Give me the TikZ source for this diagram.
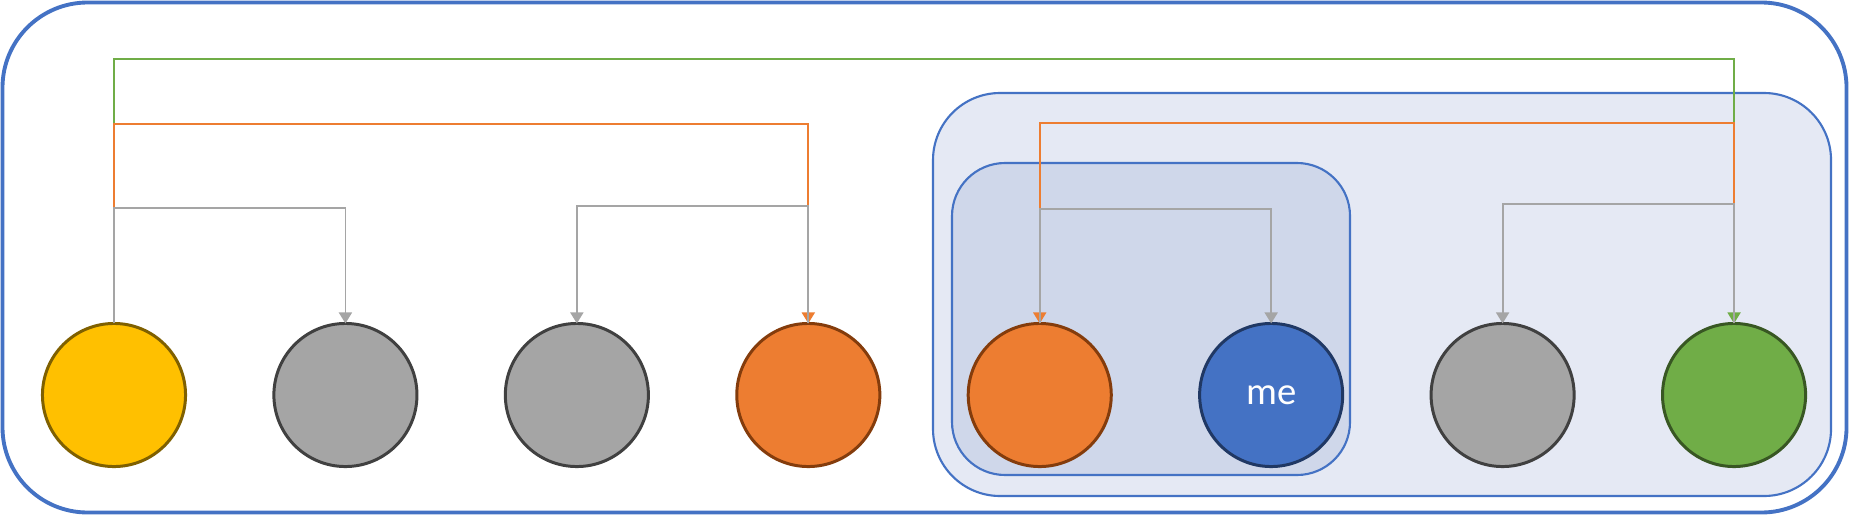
\documentclass[tikz,border=0pt]{standalone}
\usepackage{fontspec}
\setsansfont{Carlito}
\usetikzlibrary{arrows.meta, positioning}
\definecolor{frameblue}{HTML}{4472C4}
\definecolor{outerfill}{HTML}{E5E9F4}
\definecolor{innerfill}{HTML}{CFD7EA}
\definecolor{peeryellow}{HTML}{FFC000}
\definecolor{peeryellowdark}{HTML}{7F6000}
\definecolor{peergray}{HTML}{A5A5A5}
\definecolor{peergraydark}{HTML}{404040}
\definecolor{peerorange}{HTML}{ED7D31}
\definecolor{peerorangedark}{HTML}{843C0C}
\definecolor{peerblue}{HTML}{4472C4}
\definecolor{peerbluedark}{HTML}{203864}
\definecolor{peergreen}{HTML}{70AD47}
\definecolor{peergreendark}{HTML}{385723}
\definecolor{linkgreen}{HTML}{70AD47}
\definecolor{linkorange}{HTML}{ED7D31}
\definecolor{linkgray}{HTML}{A5A5A5}

\tikzset{
  peer/.style={circle, line width=0.85pt, minimum size=1.43cm, inner sep=0pt, outer sep=0pt},
  link/.style={line width=0.5pt, -{Triangle[width=0.13cm, length=0.11cm]}},
}

\begin{document}
\begin{tikzpicture}[x=0.01cm, y=-0.01cm]
  \useasboundingbox (0,0) rectangle (1849,515);

  % Group frames
  \draw[frameblue, line width=1.1pt, rounded corners=0.85cm, fill=white] (2.5,2.5) rectangle (1846.5,512.5);
  \draw[frameblue, line width=0.6pt, rounded corners=0.67cm, fill=outerfill] (933,93) rectangle (1831,496);
  \draw[frameblue, line width=0.6pt, rounded corners=0.53cm, fill=innerfill] (952,163) rectangle (1350,475);

  % Peers
  \node[peer, draw=peeryellowdark, fill=peeryellow] (p1) at (114,395) {};
  \node[peer, draw=peergraydark, fill=peergray, right=0.883cm of p1] (p2) {};
  \node[peer, draw=peergraydark, fill=peergray, right=0.883cm of p2] (p3) {};
  \node[peer, draw=peerorangedark, fill=peerorange, right=0.883cm of p3] (p4) {};
  \node[peer, draw=peerorangedark, fill=peerorange, right=0.883cm of p4] (p5) {};
  \node[peer, draw=peerbluedark, fill=peerblue, right=0.883cm of p5, text=white, font=\sffamily\fontsize{11pt}{13pt}\selectfont] (me) {me};
  \node[peer, draw=peergraydark, fill=peergray, right=0.883cm of me] (p7) {};
  \node[peer, draw=peergreendark, fill=peergreen, right=0.883cm of p7] (p8) {};

  % Links
  \draw[link, linkgreen] (p1.north) -- (p1.north |- 0,59) -| (p8.north);
  \draw[link, linkorange] (p1.north) -- (p1.north |- 0,124) -| (p4.north);
  \draw[link, linkorange] (p8.north) -- (p8.north |- 0,123) -| (p5.north);
  \draw[link, linkgray] (p1.north) -- (p1.north |- 0,208) -| (p2.north);
  \draw[link, linkgray] (p4.north) -- (p4.north |- 0,206) -| (p3.north);
  \draw[link, linkgray] (p5.north) -- (p5.north |- 0,209) -| (me.north);
  \draw[link, linkgray] (p8.north) -- (p8.north |- 0,204) -| (p7.north);
\end{tikzpicture}
\end{document}
